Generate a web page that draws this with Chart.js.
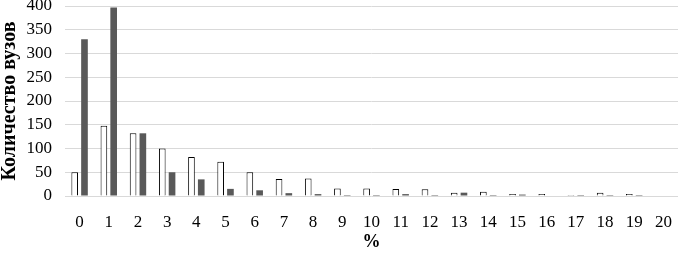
<!DOCTYPE html>
<html>
<head>
<meta charset="utf-8">
<script src="https://cdn.jsdelivr.net/npm/chart.js@4/dist/chart.umd.min.js"></script>
<style>
html,body{margin:0;padding:0;background:#fff;}
#wrap{width:678px;height:254px;}
</style>
</head>
<body>
<div id="wrap"><canvas id="c" width="678" height="254"></canvas></div>
<script>
const categories = ["0","1","2","3","4","5","6","7","8","9","10","11","12","13","14","15","16","17","18","19","20"];
const seriesWhite = [50,148,132,100,82,72,50,36,37,16,16,15,14,7,9,4,4,2,7,4,0];
const seriesDark  = [330,397,132,50,35,15,12,6,4,2,2,4,2,7,2,3,0,2,2,2,0];
const yTickStep = 50;
const yMax = 400;

const serif = "'Liberation Serif','Times New Roman',serif";

new Chart(document.getElementById('c'), {
  type: 'bar',
  data: {
    labels: categories,
    datasets: [
      {label:'A', data: seriesWhite, backgroundColor:'#ffffff', borderColor:'#000000', borderWidth:1,
       barPercentage:0.68, categoryPercentage:0.67},
      {label:'B', data: seriesDark, backgroundColor:'#595959', borderColor:'#595959', borderWidth:0,
       barPercentage:0.68, categoryPercentage:0.67}
    ]
  },
  options: {
    responsive:false,
    animation:false,
    layout:{padding:{top:0,right:0,left:0,bottom:0}},
    plugins:{legend:{display:false}, tooltip:{enabled:false}},
    scales:{
      x:{
        grid:{display:false, drawTicks:false},
        border:{display:false},
        ticks:{color:'#000', font:{family:serif, size:17}, padding:16, maxRotation:0, autoSkip:false},
        title:{display:true, text:'%', color:'#000', font:{family:serif, size:18, weight:'bold'}, padding:{top:0,bottom:1}},
        afterFit:(s)=>{ s.height = 58; s.paddingRight = 0; s.paddingLeft = 0; }
      },
      y:{
        min:0, max:yMax,
        grid:{color:'#d9d9d9', lineWidth:1, drawTicks:false},
        border:{display:false},
        ticks:{color:'#000', font:{family:serif, size:17}, padding:13, stepSize:yTickStep, autoSkip:false},
        title:{display:true, text:'Количество вузов', color:'#000', font:{family:serif, size:20, weight:'bold', lineHeight:1}, padding:{top:0,bottom:3}},
        afterFit:(s)=>{ s.paddingTop = 6; s.paddingBottom = 0; s.width = 65; }
      }
    }
  }
});
</script>
</body>
</html>
